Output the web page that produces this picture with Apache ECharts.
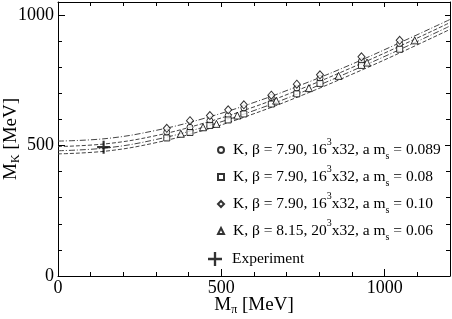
<!DOCTYPE html>
<html><head><meta charset="utf-8">
<script src="https://cdn.jsdelivr.net/npm/echarts@6/dist/echarts.min.js"></script>
<style>html,body{margin:0;padding:0;background:#fff}#c{width:452px;height:319px}</style>
</head><body><div id="c"></div>
<script>
// beta = 7.90 clusters (pion mass, MeV)
const mpiA = [333, 404, 465, 521, 569, 653, 731, 802, 929, 1046];
const mkDiamond = [566, 595, 615, 637, 656, 693, 735, 771, 840, 903]; // a m_s = 0.10
const mkCircle  = [551, 570, 595, 615, 644, 684, 720, 758, 824, 890]; // a m_s = 0.089
const mkSquare  = [529, 550, 577, 598, 621, 659, 698, 738, 807, 869]; // a m_s = 0.08
// beta = 8.15
const mpiB = [376, 444, 485, 549, 668, 768, 859, 946, 1092];
const mkTri = [545, 570, 583, 615, 672, 720, 767, 818, 903];
// experiment
const expX = [139.6];
const expY = [493.7];
// fit curves
const fitX = [0, 150, 300, 450, 600, 750, 900, 1050, 1200];
const fit1 = [517, 527, 558, 605, 665, 735, 812, 896, 983];
const fit2 = [496, 507, 538, 587, 648, 720, 799, 883, 971];
const fit3 = [480, 491, 523, 572, 634, 706, 786, 870, 958];
const fit4 = [468, 479, 511, 560, 622, 694, 773, 857, 945];
const xTicks = [0, 500, 1000];
const yTicks = [0, 500, 1000];

const FF = '"Liberation Serif", "Times New Roman", serif';
const pairs = (xs, ys) => xs.map((x, i) => [x, ys[i]]);

const legendLabels = {
  K1: '{n|K, β = 7.90, 16}{sup|3}{n|x32, a m}{sub|s}{n| = 0.089}',
  K2: '{n|K, β = 7.90, 16}{sup|3}{n|x32, a m}{sub|s}{n| = 0.08}',
  K3: '{n|K, β = 7.90, 16}{sup|3}{n|x32, a m}{sub|s}{n| = 0.10}',
  K4: '{n|K, β = 8.15, 20}{sup|3}{n|x32, a m}{sub|s}{n| = 0.06}',
  Experiment: '{n|Experiment}'
};
const rich = {
  n: {fontSize: 15.5, fontFamily: FF, color: '#000'},
  sup: {fontSize: 10, fontFamily: FF, color: '#000', padding: [0, 0, 16, 0]},
  sub: {fontSize: 10, fontFamily: FF, color: '#000', padding: [12, 0, 0, 0]}
};
const plusPath = 'path://M5,0H7V5H12V7H7V12H5V7H0V5H5Z';
const mk = {color: '#fff', borderColor: '#000', borderWidth: 1};

function fitSeries(data, dash) {
  return {type: 'line', data: data, smooth: 0.4, showSymbol: false, silent: true,
    xAxisIndex: 0, yAxisIndex: 0, z: 1,
    lineStyle: {color: '#444', width: 1, type: dash}};
}
const xa = (pos, interval, len, labels, line) => ({
  type: 'value', min: 0, max: 1200, interval: interval, position: pos,
  axisLine: {show: line, onZero: false, lineStyle: {color: '#000', width: 1}},
  axisTick: {show: true, inside: true, length: len, lineStyle: {color: '#000'}},
  axisLabel: labels ? {show: true, fontSize: 18, fontFamily: FF, color: '#000', margin: 3, showMaxLabel: false,
    formatter: v => xTicks.includes(v) ? String(v) : ''} : {show: false},
  splitLine: {show: false}
});
const ya = (pos, interval, len, labels, line) => ({
  type: 'value', min: 0, max: 1050, interval: interval, position: pos,
  axisLine: {show: line, onZero: false, lineStyle: {color: '#000', width: 1}},
  axisTick: {show: true, inside: true, length: len, lineStyle: {color: '#000'}},
  axisLabel: labels ? {show: true, fontSize: 18, fontFamily: FF, color: '#000', margin: 4, showMaxLabel: false,
    formatter: v => yTicks.includes(v) ? String(v) : ''} : {show: false},
  splitLine: {show: false}
});

const xAxes = [xa('bottom', 500, 7, true, true), xa('bottom', 100, 4, false, false),
  xa('top', 500, 5, false, true), xa('top', 100, 4, false, false)];
xAxes[0].name = '{n|M}{sub|π}{n| [MeV]}';
xAxes[0].nameLocation = 'middle';
xAxes[0].nameGap = 19;
xAxes[0].nameMoveOverlap = false;
xAxes[0].nameTextStyle = {rich: {
  n: {fontSize: 19, fontFamily: FF, color: '#000'},
  sub: {fontSize: 12, fontFamily: FF, color: '#000', padding: [9, 0, 0, 0]}}};
const yAxes = [ya('left', 500, 7, true, true), ya('left', 100, 4, false, false),
  ya('right', 500, 5, false, true), ya('right', 100, 4, false, false)];
yAxes[0].name = '{n|M}{sub|K}{n| [MeV]}';
yAxes[0].nameLocation = 'middle';
yAxes[0].nameGap = 36;
yAxes[0].nameMoveOverlap = false;
yAxes[0].nameTextStyle = {rich: {
  n: {fontSize: 19, fontFamily: FF, color: '#000'},
  sub: {fontSize: 12, fontFamily: FF, color: '#000', padding: [10, 0, 0, 0]}}};

const option = {
  animation: false,
  backgroundColor: '#fff',
  grid: {left: 58, right: 2, top: 2, bottom: 43, containLabel: false, outerBoundsMode: 'none'},
  xAxis: xAxes,
  yAxis: yAxes,
  legend: [{
    data: ['K1', 'K2', 'K3', 'K4'], orient: 'vertical', left: 212, top: 132,
    itemWidth: 6, itemHeight: 6, itemGap: 3,
    formatter: n => legendLabels[n],
    textStyle: {fontSize: 15.5, fontFamily: FF, rich: rich, padding: [0, 0, 0, 4]}
  }, {
    data: ['Experiment'], orient: 'vertical', left: 203, top: 246,
    itemWidth: 14, itemHeight: 14,
    formatter: n => legendLabels[n],
    textStyle: {fontSize: 15.5, fontFamily: FF, rich: rich, padding: [0, 0, 0, 5]}
  }],
  series: [
    fitSeries(pairs(fitX, fit1), [6, 2, 1, 2]),
    fitSeries(pairs(fitX, fit2), [4, 2]),
    fitSeries(pairs(fitX, fit3), [6, 2, 1, 2]),
    fitSeries(pairs(fitX, fit4), [4, 2]),
    {name: 'K1', type: 'scatter', data: pairs(mpiA, mkCircle), symbol: 'circle', symbolSize: 6, itemStyle: mk, z: 3},
    {name: 'K2', type: 'scatter', data: pairs(mpiA, mkSquare), symbol: 'rect', symbolSize: 6, itemStyle: mk, z: 3},
    {name: 'K3', type: 'scatter', data: pairs(mpiA, mkDiamond), symbol: 'diamond', symbolSize: [7, 8], itemStyle: mk, z: 3},
    {name: 'K4', type: 'scatter', data: pairs(mpiB, mkTri), symbol: 'triangle', symbolSize: 7, itemStyle: mk, z: 3},
    {name: 'Experiment', type: 'scatter', data: pairs(expX, expY), symbol: plusPath, symbolSize: 13,
      itemStyle: {color: '#000'}, z: 4}
  ]
};
const chart = echarts.init(document.getElementById('c'), null, {renderer: 'canvas'});
chart.setOption(option);
</script>
</body></html>
